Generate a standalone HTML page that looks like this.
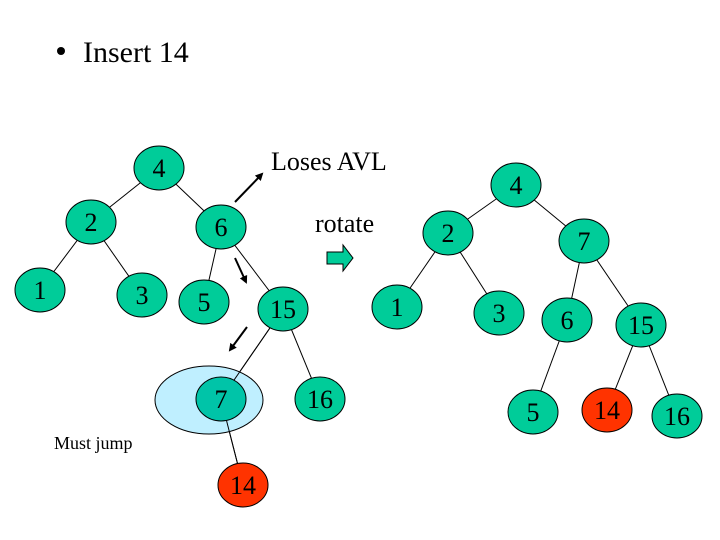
<!DOCTYPE html>
<html><head><meta charset="utf-8"><style>
html,body{margin:0;padding:0;background:#fff;}
svg{display:block;}
text{font-family:"Liberation Serif",serif;fill:#000;}
</style></head><body>
<svg width="720" height="540" viewBox="0 0 720 540" xmlns="http://www.w3.org/2000/svg">
<defs>
<marker id="ah" markerWidth="8" markerHeight="8" refX="6" refY="4" orient="auto" markerUnits="userSpaceOnUse">
<path d="M0,0 L8,4 L0,8 Z" fill="#000"/></marker>
</defs>
<circle cx="61" cy="51" r="4" fill="#000"/>
<text x="83" y="62" font-size="30">Insert 14</text>

<!-- left tree lines -->
<g stroke="#000" stroke-width="1">
<line x1="159" y1="168" x2="91" y2="222"/>
<line x1="159" y1="168" x2="221" y2="227"/>
<line x1="91" y1="222" x2="40" y2="290"/>
<line x1="91" y1="222" x2="142" y2="295"/>
<line x1="221" y1="227" x2="204" y2="302"/>
<line x1="221" y1="227" x2="283" y2="309"/>
<line x1="283" y1="309" x2="221" y2="399"/>
<line x1="283" y1="309" x2="320" y2="399"/>
<line x1="221" y1="399" x2="243" y2="485"/>
</g>
<ellipse cx="209" cy="400" rx="54" ry="34" fill="#bfefff" stroke="#000"/>
<line x1="283" y1="309" x2="221" y2="399" stroke="#000"/>
<line x1="221" y1="399" x2="243" y2="485" stroke="#000"/>
<g stroke="#000" stroke-width="1">
<ellipse cx="159" cy="168" rx="25" ry="22" fill="#00cc99"/>
<ellipse cx="91" cy="222" rx="25" ry="22" fill="#00cc99"/>
<ellipse cx="221" cy="227" rx="25" ry="22" fill="#00cc99"/>
<ellipse cx="40" cy="290" rx="25" ry="22" fill="#00cc99"/>
<ellipse cx="142" cy="295" rx="25" ry="22" fill="#00cc99"/>
<ellipse cx="204" cy="302" rx="25" ry="22" fill="#00cc99"/>
<ellipse cx="283" cy="309" rx="25" ry="22" fill="#00cc99"/>
<ellipse cx="221" cy="399" rx="25" ry="22" fill="#00c4a8"/>
<ellipse cx="320" cy="399" rx="25" ry="22" fill="#00cc99"/>
<ellipse cx="243" cy="485" rx="25" ry="22" fill="#ff3300"/>
</g>
<g font-size="26" text-anchor="middle">
<text x="159" y="177">4</text>
<text x="91" y="231">2</text>
<text x="221" y="236">6</text>
<text x="40" y="299">1</text>
<text x="142" y="304">3</text>
<text x="204" y="311">5</text>
<text x="283" y="318">15</text>
<text x="221" y="408">7</text>
<text x="320" y="408">16</text>
<text x="243" y="494">14</text>
</g>
<text x="54" y="449" font-size="18">Must jump</text>

<!-- arrows -->
<g stroke="#000" stroke-width="2">
<line x1="235" y1="202" x2="262" y2="174" marker-end="url(#ah)"/>
<line x1="235" y1="258" x2="246" y2="282" marker-end="url(#ah)"/>
<line x1="247" y1="327" x2="230" y2="350" marker-end="url(#ah)"/>
</g>
<text x="271" y="170" font-size="26">Loses AVL</text>
<text x="315" y="232" font-size="26">rotate</text>
<path d="M327,252 L343,252 L343,245 L353,258 L343,271 L343,264 L327,264 Z" fill="#00cc99" stroke="#000" stroke-width="1"/>

<!-- right tree -->
<g stroke="#000" stroke-width="1">
<line x1="516" y1="185" x2="448" y2="233"/>
<line x1="516" y1="185" x2="584" y2="241"/>
<line x1="448" y1="233" x2="397" y2="307"/>
<line x1="448" y1="233" x2="499" y2="313"/>
<line x1="584" y1="241" x2="567" y2="320"/>
<line x1="584" y1="241" x2="641" y2="325"/>
<line x1="567" y1="320" x2="533" y2="412"/>
<line x1="641" y1="325" x2="607" y2="410"/>
<line x1="641" y1="325" x2="677" y2="416"/>
<ellipse cx="516" cy="185" rx="25" ry="22" fill="#00cc99"/>
<ellipse cx="448" cy="233" rx="25" ry="22" fill="#00cc99"/>
<ellipse cx="584" cy="241" rx="25" ry="22" fill="#00cc99"/>
<ellipse cx="397" cy="307" rx="25" ry="22" fill="#00cc99"/>
<ellipse cx="499" cy="313" rx="25" ry="22" fill="#00cc99"/>
<ellipse cx="567" cy="320" rx="25" ry="22" fill="#00cc99"/>
<ellipse cx="641" cy="325" rx="25" ry="22" fill="#00cc99"/>
<ellipse cx="533" cy="412" rx="25" ry="22" fill="#00cc99"/>
<ellipse cx="607" cy="410" rx="25" ry="22" fill="#ff3300"/>
<ellipse cx="677" cy="416" rx="25" ry="22" fill="#00cc99"/>
</g>
<g font-size="26" text-anchor="middle">
<text x="516" y="194">4</text>
<text x="448" y="242">2</text>
<text x="584" y="250">7</text>
<text x="397" y="316">1</text>
<text x="499" y="322">3</text>
<text x="567" y="329">6</text>
<text x="641" y="334">15</text>
<text x="533" y="421">5</text>
<text x="607" y="419">14</text>
<text x="677" y="425">16</text>
</g>
</svg>
</body></html>
